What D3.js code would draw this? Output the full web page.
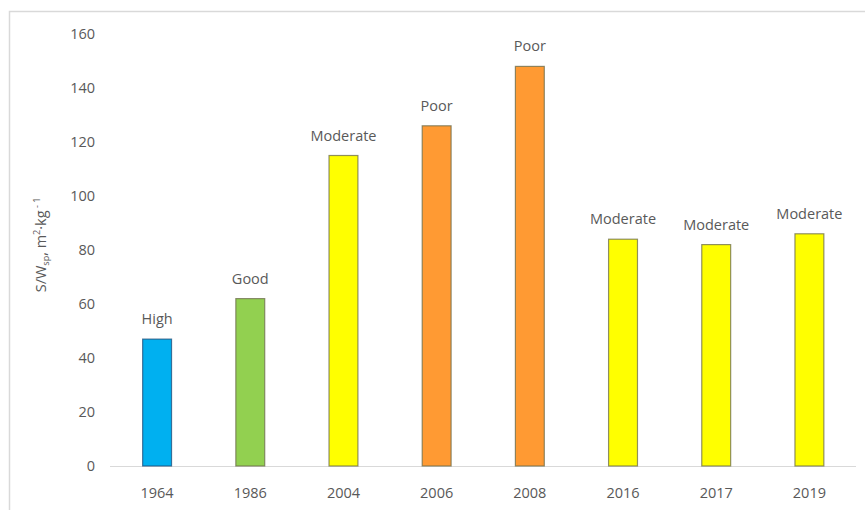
<!DOCTYPE html>
<html><head><meta charset="utf-8">
<script src="https://cdn.jsdelivr.net/npm/d3@7"></script>
<style>body{margin:0;background:#fff;}svg{display:block;font-family:"Open Sans","Liberation Sans",sans-serif;}</style>
</head><body>
<svg id="c" width="866" height="510"></svg>
<script>
const years = ["1964","1986","2004","2006","2008","2016","2017","2019"];
const values = [47, 62, 115, 126, 148, 84, 82, 86];
const statusLabels = ["High","Good","Moderate","Poor","Poor","Moderate","Moderate","Moderate"];
const statusColors = {High:"#00B0F0", Good:"#92D050", Moderate:"#FFFF00", Poor:"#FF9A33"};
const yTicks = [0,20,40,60,80,100,120,140,160];

const svg = d3.select("#c");
svg.append("path").attr("d","M9.5,510 V11.5 H865").attr("fill","none").attr("stroke","#d9d9d9").attr("stroke-width",1.5);

const x = d3.scaleBand().domain(years).range([110.5, 856]).paddingInner(0.69).paddingOuter(0.345);
const y = d3.scaleLinear().domain([0,160]).range([466,34]);

svg.append("g").selectAll("text").data(yTicks).join("text")
  .attr("x", 95).attr("y", d=>y(d)).attr("dy","0.35em").attr("text-anchor","end")
  .attr("font-size",14.5).attr("fill","#595959").text(d=>d);

svg.append("line").attr("x1",110).attr("x2",856).attr("y1",y(0)+0.5).attr("y2",y(0)+0.5)
  .attr("stroke","#d9d9d9").attr("stroke-width",1);

svg.append("g").selectAll("rect").data(years).join("rect")
  .attr("x", d=>x(d)).attr("width", x.bandwidth())
  .attr("y", (d,i)=>y(values[i])).attr("height",(d,i)=>y(0)-y(values[i]))
  .attr("fill",(d,i)=>statusColors[statusLabels[i]])
  .attr("stroke",(d,i)=>statusLabels[i]==="High"?"#1f4e79":"#6b6b4a").attr("stroke-opacity",0.75).attr("stroke-width",1.2);

svg.append("g").selectAll("text").data(years).join("text")
  .attr("x", d=>x(d)+x.bandwidth()/2).attr("y",(d,i)=>y(values[i])-15)
  .attr("text-anchor","middle").attr("font-size",14.5).attr("fill","#595959")
  .text((d,i)=>statusLabels[i]);

svg.append("g").selectAll("text").data(years).join("text")
  .attr("x", d=>x(d)+x.bandwidth()/2).attr("y",498)
  .attr("text-anchor","middle").attr("font-size",14.5).attr("fill","#595959").text(d=>d);

const t = svg.append("text").attr("transform","translate(46,245) rotate(-90)")
  .attr("text-anchor","middle").attr("font-size",14.5).attr("fill","#595959");
t.append("tspan").text("S/W");
t.append("tspan").attr("font-size",9).attr("dy",3).text("sp");
t.append("tspan").attr("dy",-3).text(", m");
t.append("tspan").attr("font-size",9).attr("dy",-6).text("2");
t.append("tspan").attr("dy",6).text("·kg");
t.append("tspan").attr("font-size",9).attr("dy",-6).text(" - 1");
</script>
</body></html>
